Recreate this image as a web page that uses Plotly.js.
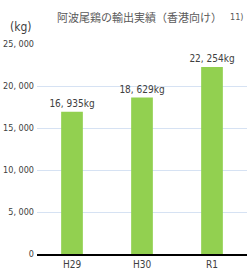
<!DOCTYPE html>
<html>
<head>
<meta charset="utf-8">
<script src="https://cdn.plot.ly/plotly-3.0.1.min.js"></script>
<style>html,body{margin:0;padding:0;background:#fff;}#chart{width:247px;height:273px;}</style>
</head>
<body>
<div id="chart"></div>
<script>
const categories = ["H29", "H30", "R1"];
const values = [16935, 18629, 22254];
const valueLabels = ["16, 935kg", "18, 629kg", "22, 254kg"];
const tickValues = [0, 5000, 10000, 15000, 20000, 25000];
const tickLabels = ["0", "5, 000", "10, 000", "15, 000", "20, 000", "25, 000"];

const narrow = "DejaVu Sans Condensed, Liberation Sans Narrow, sans-serif";
const trace = {
  type: "bar",
  x: categories,
  y: values,
  text: valueLabels,
  textposition: "outside",
  constraintext: "none",
  cliponaxis: false,
  textfont: {family: narrow, size: 10, color: "#404040"},
  marker: {color: "#92d050"},
  width: 0.31,
  hoverinfo: "none"
};
const layout = {
  width: 247, height: 273,
  margin: {l: 37, r: 0, t: 44, b: 19},
  paper_bgcolor: "#fff", plot_bgcolor: "#fff",
  showlegend: false,
  xaxis: {
    type: "category",
    tickfont: {family: narrow, size: 10, color: "#404040"},
    showline: true, linecolor: "#000", linewidth: 1.5,
    ticks: "", showgrid: false
  },
  yaxis: {
    range: [0, 25000],
    tickvals: tickValues, ticktext: tickLabels,
    tickfont: {family: narrow, size: 9, color: "#404040"},
    ticklabelstandoff: 2,
    showgrid: true, gridcolor: "#d6e2f3", gridwidth: 1,
    zeroline: false, showline: false, ticks: "", ticklen: 0
  },
  annotations: [
    {text: "阿波尾鶏の輸出実績（香港向け）", xref: "paper", yref: "paper", x: 0.49, y: 1, yshift: 27,
     showarrow: false, xanchor: "center", yanchor: "middle",
     font: {family: "Noto Sans CJK JP, sans-serif", size: 11, color: "#595959"}},
    {text: "11)", xref: "paper", yref: "paper", x: 1, y: 1, yshift: 27, xshift: -2,
     showarrow: false, xanchor: "right", yanchor: "middle",
     font: {family: narrow, size: 9, color: "#595959"}},
    {text: "(kg)", xref: "paper", yref: "paper", x: 0, y: 1, xshift: -16, yshift: 17,
     showarrow: false, xanchor: "center", yanchor: "middle",
     font: {family: narrow, size: 12, color: "#404040"}}
  ]
};
Plotly.newPlot("chart", [trace], layout, {displayModeBar: false, staticPlot: true});
</script>
</body>
</html>
